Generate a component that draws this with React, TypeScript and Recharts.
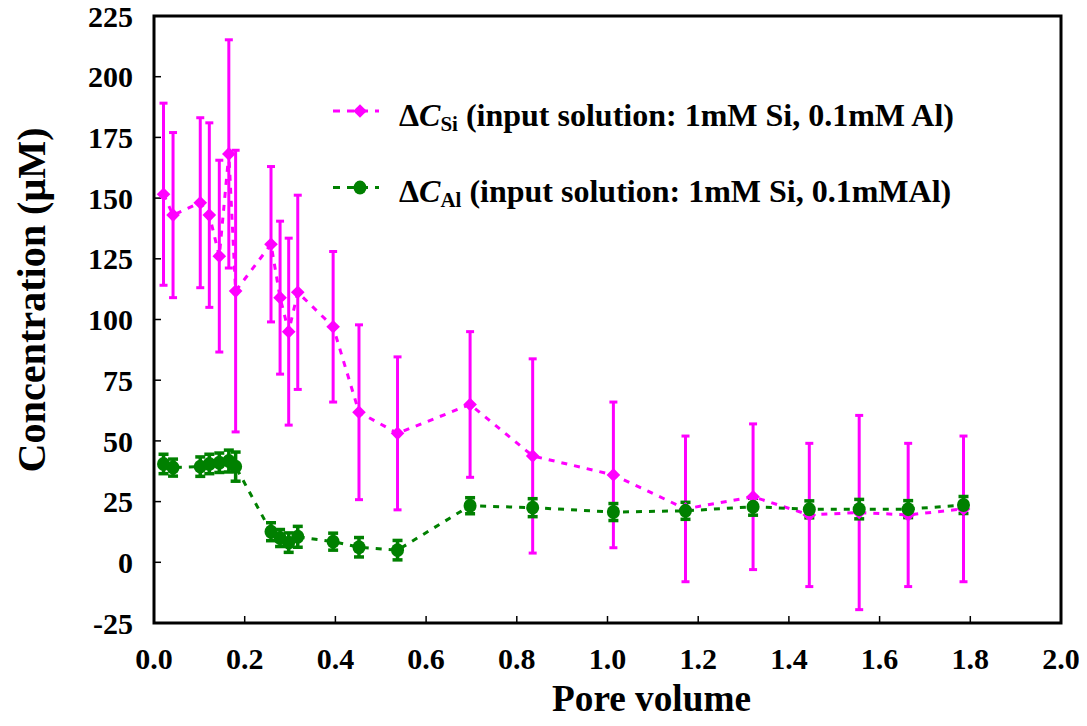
import React from 'react';
import { LineChart, Line, XAxis, YAxis, ErrorBar, ReferenceArea, Legend } from 'recharts';

const FONT = '"Liberation Serif", "Times New Roman", serif';
const SI_COLOR = '#ff00ff';
const AL_COLOR = '#008000';

// pore volume of each sample (shared by both series)
const poreVolume = [
  0.021, 0.042, 0.102, 0.122, 0.144, 0.165, 0.18, 0.258, 0.278, 0.297, 0.317, 0.395,
  0.452, 0.537, 0.697, 0.835, 1.013, 1.172, 1.321, 1.445, 1.555, 1.663, 1.785,
];

// ΔC Si (µM) and its error
const siConc = [
  151.6, 143, 148.1, 143, 126.1, 168.2, 111.7, 131, 109, 95, 111.2, 97,
  61.8, 53.1, 65, 43.8, 36, 22, 27, 19.5, 20.5, 19.5, 22,
];
const siErr = [
  37.5, 34, 35, 38, 39.5, 47, 58, 32, 31.5, 38.5, 40, 31,
  36, 31.5, 30, 40, 30, 30, 30, 29.5, 40, 29.5, 30,
];

// ΔC Al (µM) and its error
const alConc = [
  40.5, 39, 39.4, 40.5, 41, 41.7, 39.4, 12.6, 10, 8.1, 10.5, 8.5,
  6.2, 5, 23.3, 22.5, 20.7, 21.2, 22.9, 21.8, 21.9, 21.9, 23.6,
];
const alErr = [
  4, 3.5, 4, 4, 4, 4.5, 6, 3.7, 3.5, 4, 4.3, 3.5,
  4, 4, 3.3, 3.7, 3.5, 3.5, 3.5, 3.5, 4, 3.5, 3.5,
];

const xTicks = [0, 0.2, 0.4, 0.6, 0.8, 1.0, 1.2, 1.4, 1.6, 1.8, 2.0];
const yTicks = [-25, 0, 25, 50, 75, 100, 125, 150, 175, 200, 225];

const siLegendTail = ' (input solution: 1mM Si, 0.1mM Al)';
const alLegendTail = ' (input solution: 1mM Si, 0.1mMAl)';

const siData = poreVolume.map((x, i) => ({ x, y: siConc[i], err: siErr[i] }));
const alData = poreVolume.map((x, i) => ({ x, y: alConc[i], err: alErr[i] }));

const tickStyle = { fill: '#000', fontSize: 30, fontWeight: 'bold', fontFamily: FONT };

function diamondDot(props: any) {
  const { cx, cy, index } = props;
  if (cx == null || cy == null) return <g key={`sd${index}`} />;
  const r = 6.8;
  return (
    <polygon
      key={`sd${index}`}
      points={`${cx},${cy - r} ${cx + r},${cy} ${cx},${cy + r} ${cx - r},${cy}`}
      fill={SI_COLOR}
    />
  );
}

function circleDot(props: any) {
  const { cx, cy, index } = props;
  if (cx == null || cy == null) return <g key={`ad${index}`} />;
  return <ellipse key={`ad${index}`} cx={cx} cy={cy} rx={6.5} ry={7} fill={AL_COLOR} />;
}

function LegendBox() {
  const rows = [
    { color: SI_COLOR, sub: 'Si', tail: siLegendTail, diamond: true },
    { color: AL_COLOR, sub: 'Al', tail: alLegendTail, diamond: false },
  ];
  return (
    <svg width={680} height={130} style={{ overflow: 'visible' }}>
      {rows.map((r, i) => {
        const cy = 23 + i * 76.6;
        return (
          <g key={r.sub}>
            <line x1={5} x2={51} y1={cy} y2={cy} stroke={r.color} strokeWidth={3} strokeDasharray="7 7" />
            {r.diamond ? (
              <polygon points={`32,${cy - 6.8} 38.8,${cy} 32,${cy + 6.8} 25.2,${cy}`} fill={r.color} />
            ) : (
              <ellipse cx={32} cy={cy} rx={6.5} ry={7} fill={r.color} />
            )}
            <text x={71} y={cy + 14.5} fontFamily={FONT} fontWeight="bold" fontSize={32} fill="#000">
              <tspan>Δ</tspan>
              <tspan fontStyle="italic">C</tspan>
              <tspan fontSize={21} dy={5}>{r.sub}</tspan>
              <tspan dy={-5}>{r.tail}</tspan>
            </text>
          </g>
        );
      })}
    </svg>
  );
}

function yLabel(props: any) {
  const vb = props.viewBox;
  const cx = vb.x + 45;
  const cy = vb.y + vb.height / 2 - 19.5;
  return (
    <text
      x={cx}
      y={cy}
      transform={`rotate(-90, ${cx}, ${cy})`}
      textAnchor="middle"
      fontFamily={FONT}
      fontWeight="bold"
      fontSize={40}
      textLength={345}
      lengthAdjust="spacingAndGlyphs"
      fill="#000"
    >
      Concentration (μM)
    </text>
  );
}

function xLabel(props: any) {
  const vb = props.viewBox;
  const cx = vb.x + vb.width / 2 + 44;
  const y = vb.y + 88;
  return (
    <text
      x={cx}
      y={y}
      textAnchor="middle"
      fontFamily={FONT}
      fontWeight="bold"
      fontSize={37}
      textLength={199}
      lengthAdjust="spacingAndGlyphs"
      fill="#000"
    >
      Pore volume
    </text>
  );
}

export default function App() {
  return (
    <div style={{ width: 1087, height: 726, margin: -8, background: '#fff' }}>
      <LineChart width={1087} height={726} margin={{ top: 16, right: 26, left: 0, bottom: 0 }}>
        <XAxis
          dataKey="x"
          type="number"
          domain={[0, 2]}
          ticks={xTicks}
          allowDataOverflow
          interval={0}
          tickFormatter={(v: number) => v.toFixed(1)}
          tick={tickStyle}
          axisLine={false}
          tickLine={{ stroke: '#000', strokeWidth: 1.5 }}
          tickSize={-7}
          tickMargin={32}
          height={103}
          label={{ content: xLabel }}
        />
        <YAxis
          type="number"
          domain={[-25, 225]}
          ticks={yTicks}
          allowDataOverflow
          interval={0}
          tick={tickStyle}
          axisLine={false}
          tickLine={{ stroke: '#000', strokeWidth: 1.5 }}
          tickSize={-7}
          tickMargin={28}
          width={154}
          label={{ content: yLabel }}
        />
        <ReferenceArea x1={0} x2={2} y1={-25} y2={225} fill="none" stroke="#000" strokeWidth={3} />
        <Line
          data={siData}
          dataKey="y"
          type="linear"
          stroke={SI_COLOR}
          strokeWidth={3}
          strokeDasharray="6 7"
          dot={diamondDot}
          activeDot={false}
          isAnimationActive={false}
        >
          <ErrorBar dataKey="err" direction="y" width={4} strokeWidth={3} stroke={SI_COLOR} />
        </Line>
        <Line
          data={alData}
          dataKey="y"
          type="linear"
          stroke={AL_COLOR}
          strokeWidth={3}
          strokeDasharray="6 7"
          dot={circleDot}
          activeDot={false}
          isAnimationActive={false}
        >
          <ErrorBar dataKey="err" direction="y" width={5} strokeWidth={3.5} stroke={AL_COLOR} />
        </Line>
        <Legend
          layout="vertical"
          align="center"
          verticalAlign="middle"
          content={() => <LegendBox />}
          wrapperStyle={{ left: 328, top: 88, width: 680, height: 130 }}
        />
      </LineChart>
    </div>
  );
}
